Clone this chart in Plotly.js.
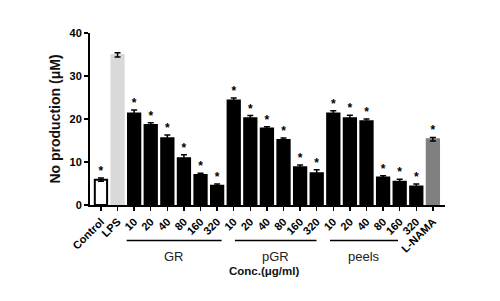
<!DOCTYPE html>
<html>
<head>
<meta charset="utf-8">
<script src="https://cdn.plot.ly/plotly-3.0.1.min.js"></script>
<style>html,body{margin:0;padding:0;background:#fff;}#chart{width:500px;height:301px;}</style>
</head>
<body>
<div id="chart"></div>
<script>
var labels = ["Control","LPS","10","20","40","80","160","320","10","20","40","80","160","320","10","20","40","80","160","320","L-NAMA"];
var values = [5.9, 34.9, 21.3, 18.6, 15.5, 10.9, 7.0, 4.5, 24.3, 20.2, 17.8, 15.1, 8.8, 7.4, 21.3, 20.2, 19.5, 6.4, 5.4, 4.3, 15.3];
var errors = [0.4, 0.5, 0.8, 0.5, 0.8, 0.8, 0.4, 0.4, 0.6, 0.6, 0.4, 0.5, 0.5, 0.8, 0.6, 0.7, 0.5, 0.4, 0.6, 0.6, 0.4];
var stars = ["*","","*","*","*","*","*","*","*","*","*","*","*","*","*","*","*","*","*","*","*"];
var fills = ["#ffffff","#d9d9d9","#000","#000","#000","#000","#000","#000","#000","#000","#000","#000","#000","#000","#000","#000","#000","#000","#000","#000","#808080"];
var outlines = ["#000","#d9d9d9","#000","#000","#000","#000","#000","#000","#000","#000","#000","#000","#000","#000","#000","#000","#000","#000","#000","#000","#808080"];
var groups = [
  {name: "GR", from: 1.55, to: 7.27},
  {name: "pGR", from: 8.07, to: 12.99},
  {name: "peels", from: 13.8, to: 17.9}
];
var xTitle = "Conc.(μg/ml)";
var yTitle = "No production (μM)";

var idx = labels.map(function(_, i){ return i; });
var starY = values.map(function(v, i){ return v + errors[i]; });
var font = "Liberation Sans, Arial, sans-serif";

var traces = [
  {
    type: "bar", x: idx, y: values,
    marker: {color: fills, line: {color: outlines, width: 2}},
    width: 0.74,
    error_y: {type: "data", array: errors, visible: true, color: "#000", thickness: 1.5, width: 3},
    hoverinfo: "none"
  },
  {
    type: "scatter", mode: "text", x: idx, y: starY, text: stars,
    textposition: "top center",
    textfont: {family: font, size: 12, color: "#000", weight: "bold"},
    hoverinfo: "none", cliponaxis: false
  }
];

var shapes = groups.map(function(g){
  return {type: "line", xref: "x", yref: "paper", x0: g.from, x1: g.to, y0: -0.207, y1: -0.207,
    line: {color: "#000", width: 1.5}};
});
var annotations = groups.map(function(g){
  return {xref: "x", yref: "paper", x: (g.from + g.to) / 2, y: -0.3, text: g.name, showarrow: false,
    font: {family: font, size: 13, color: "#222"}, yanchor: "middle"};
});
annotations.push({xref: "paper", yref: "paper", x: 0.49, y: -0.385, text: "<b>" + xTitle + "</b>", showarrow: false,
  font: {family: font, size: 11.5, color: "#111"}, yanchor: "middle"});

var layout = {
  width: 500, height: 301,
  margin: {l: 90, r: 55, t: 33, b: 96},
  paper_bgcolor: "#fff", plot_bgcolor: "#fff",
  showlegend: false,
  xaxis: {
    range: [-0.66, 20.73], tickvals: idx, ticktext: labels, tickangle: -45,
    showline: true, linecolor: "#000", linewidth: 2, ticks: "outside", ticklen: 4, tickwidth: 1.5, tickcolor: "#000",
    showgrid: false, zeroline: false,
    tickfont: {family: font, size: 11, color: "#000", weight: "bold"}
  },
  yaxis: {
    range: [0, 40], tickvals: [0, 10, 20, 30, 40],
    showline: true, linecolor: "#000", linewidth: 2, ticks: "outside", ticklen: 4, tickwidth: 1.5, tickcolor: "#000",
    showgrid: false, zeroline: false,
    tickfont: {family: font, size: 11, color: "#000", weight: "bold"},
    title: {text: "<b>" + yTitle + "</b>", font: {family: font, size: 14, color: "#111"}, standoff: 6}
  },
  shapes: shapes,
  annotations: annotations
};

Plotly.newPlot("chart", traces, layout, {displayModeBar: false, staticPlot: true});
</script>
</body>
</html>
